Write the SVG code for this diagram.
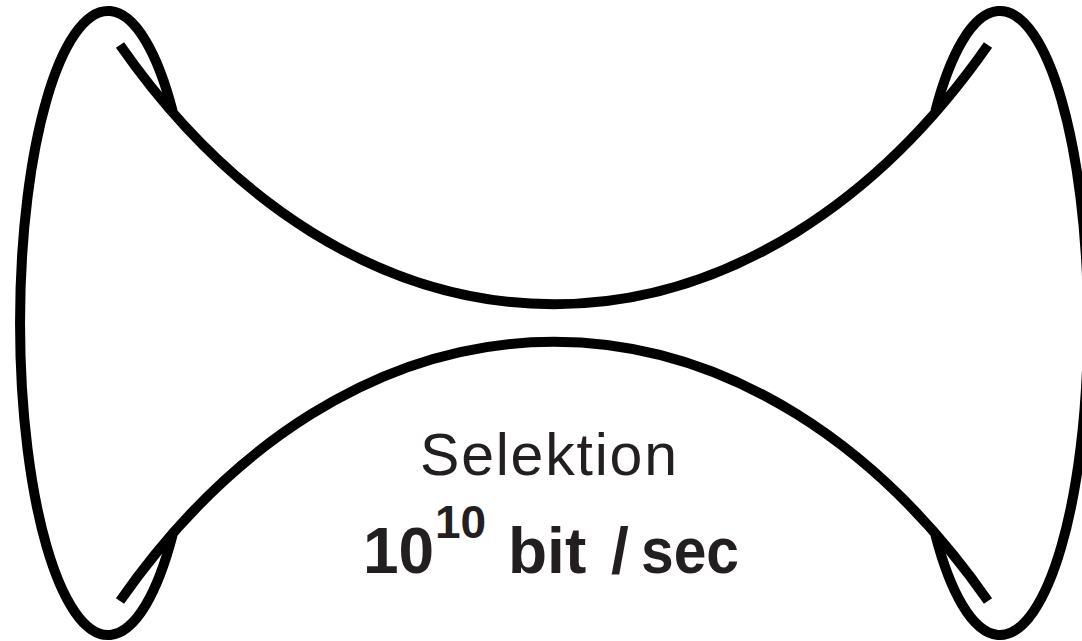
<svg xmlns="http://www.w3.org/2000/svg" width="1082" height="641" viewBox="0 0 1082 641">
<style>
.s{fill:none;stroke:#000;stroke-width:10;stroke-linecap:butt}
.t{font-family:"Liberation Sans",Arial,sans-serif;fill:#231f20}
</style>
<rect width="1082" height="641" fill="#fff"/>
<g id="left-node">
<path class="s" d="M172.6,111 A88,312 0 1 0 172.6,535"/>
</g>
<g id="right-node">
<path class="s" d="M935.4,111 A88,312 0 1 1 935.4,535"/>
</g>
<g id="connectors">
<path class="s" d="M120,45 A620,907 0 0 0 988,45"/>
<path class="s" d="M120,601 A620,907 0 0 1 988,601"/>
</g>
<g id="label">
<text class="t" x="420" y="475" font-size="59" textLength="257" lengthAdjust="spacing">Selektion</text>
<text class="t" font-weight="bold" font-size="64"><tspan x="363" y="573">10</tspan><tspan x="435" y="538" font-size="46">10</tspan><tspan x="508" y="573">bit </tspan><tspan x="611" y="573">/</tspan><tspan x="641" y="573" textLength="98" lengthAdjust="spacingAndGlyphs">sec</tspan></text>
</g>
</svg>
